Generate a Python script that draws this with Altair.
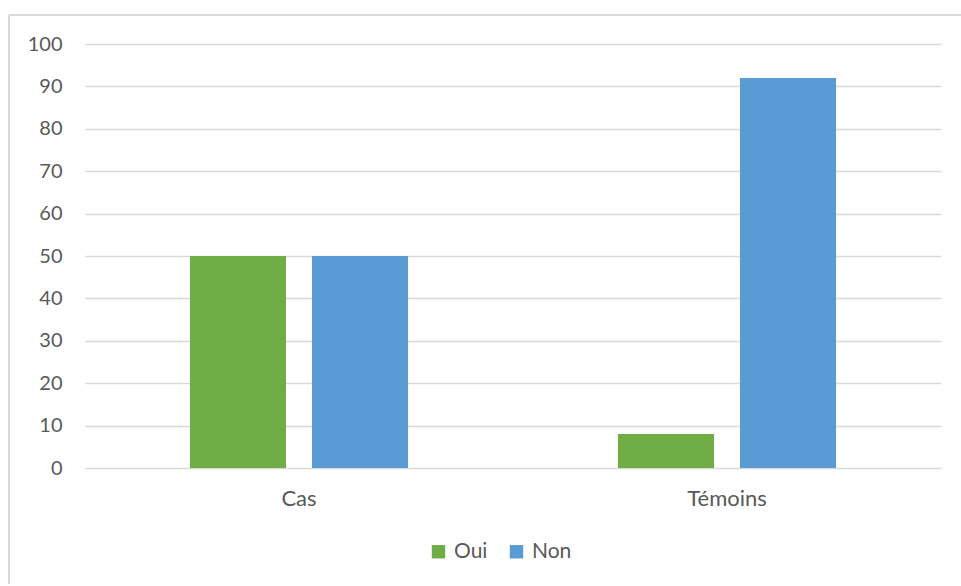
import altair as alt
import pandas as pd

groups = ["Cas", "Témoins"]
answers = ["Oui", "Non"]
oui_values = [50, 8]
non_values = [50, 92]
y_ticks = list(range(0, 101, 10))

rows = []
for g, o, n in zip(groups, oui_values, non_values):
    rows.append({"groupe": g, "reponse": "Oui", "valeur": o})
    rows.append({"groupe": g, "reponse": "Non", "valeur": n})
df = pd.DataFrame(rows)

W, H = 856, 424
PAD = {"left": 85, "top": 44, "right": 20, "bottom": 116}
FONT = "Lato"
TEXT = "#595959"
GRID = "#d9d9d9"

bars = alt.Chart(df).mark_bar().encode(
    x=alt.X(
        "groupe:N",
        sort=groups,
        title=None,
        scale=alt.Scale(paddingInner=0, paddingOuter=0),
        axis=alt.Axis(
            labelAngle=0, labelFontSize=22, labelColor=TEXT, labelFont=FONT,
            labelPadding=20, ticks=False, domain=False, grid=False,
        ),
    ),
    xOffset=alt.XOffset(
        "reponse:N", sort=answers,
        scale=alt.Scale(paddingInner=0.213, paddingOuter=0.86),
    ),
    y=alt.Y(
        "valeur:Q",
        title=None,
        scale=alt.Scale(domain=[0, 100], nice=False),
        axis=alt.Axis(
            values=y_ticks, labelFontSize=20, labelColor=TEXT, labelFont=FONT,
            labelPadding=23, ticks=False, domain=False,
            gridColor=GRID, gridWidth=1.5,
        ),
    ),
    color=alt.Color(
        "reponse:N", sort=answers,
        scale=alt.Scale(domain=answers, range=["#70AD47", "#5B9BD5"]),
        legend=alt.Legend(
            title=None, orient="none", direction="horizontal",
            legendX=343, legendY=497,
            symbolType="square", symbolSize=180, symbolStrokeWidth=0,
            labelFontSize=21, labelColor=TEXT, labelFont=FONT,
            columnPadding=18, labelOffset=5,
        ),
    ),
)

# light frame edges (top and left) of the chart, stopping at the canvas edge
anchor = pd.DataFrame({"k": [0]})
frame_top = alt.Chart(anchor).mark_rule(stroke=GRID, strokeWidth=2).encode(
    x=alt.value(-76), x2=alt.value(W + PAD["right"]), y=alt.value(-29),
)
frame_left = alt.Chart(anchor).mark_rule(stroke=GRID, strokeWidth=2).encode(
    x=alt.value(-76), y=alt.value(-29), y2=alt.value(H + PAD["bottom"]),
)

chart = alt.layer(frame_top, frame_left, bars).properties(
    width=W, height=H,
    autosize=alt.AutoSizeParams(type="none"),
    padding=PAD,
).configure(
    background="white",
    view=alt.ViewConfig(strokeWidth=0, stroke="transparent"),
)

chart.save("out.html", embed_options={"renderer": "svg", "actions": False})
